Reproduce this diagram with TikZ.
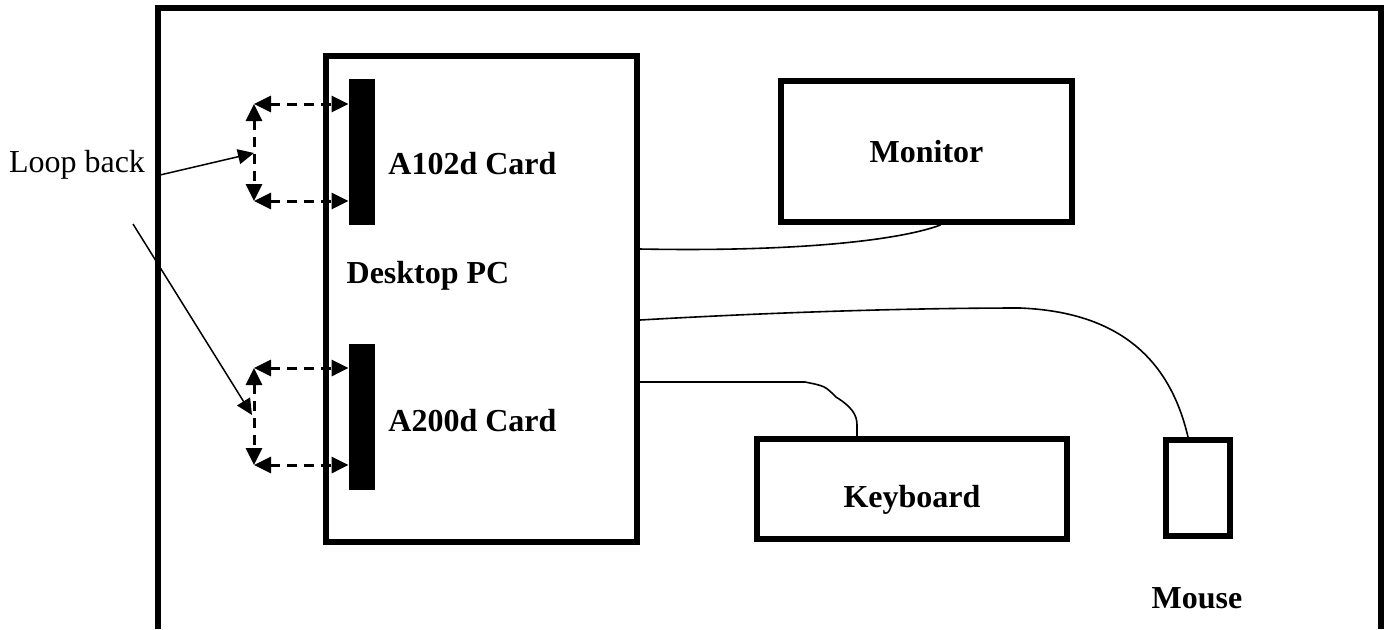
\documentclass[tikz,border=0pt]{standalone}
\usepackage{fontspec}
\setmainfont{Liberation Serif}
\usetikzlibrary{arrows.meta,positioning}

\begin{document}
\begin{tikzpicture}[x=0.5pt,y=-0.5pt,
		font=\fontsize{16}{19}\selectfont,
		box/.style={draw,line width=3pt,inner sep=0pt},
		card/.style={fill=black,inner sep=0pt,minimum width=13pt,minimum height=73pt},
		lbl/.style={font=\fontsize{16}{19}\selectfont\bfseries,inner sep=0pt},
		loopline/.style={dashed,dash pattern=on 5pt off 3.5pt,line width=1.5pt,{Triangle[length=8.5pt,width=8pt]}-{Triangle[length=8.5pt,width=8pt]}},
		pointer/.style={line width=0.75pt,-{Triangle[length=8pt,width=7.5pt]}},
		cable/.style={line width=0.8pt}]
			\useasboundingbox (0,0) rectangle (1384,629);
			\draw[line width=3pt] (158,629) -- (158,8) -- (1381,8) -- (1381,629);
			\node[box,minimum width=155.5pt,minimum height=243pt] (pc) at (481.5,299) {};
			\node[box,minimum width=145.5pt,minimum height=70.5pt,font=\fontsize{16}{19}\selectfont\bfseries] (monitor) at (926.5,151.5) {Monitor};
			\node[box,minimum width=155pt,minimum height=50pt] (keyboard) at (912,489) {};
			\node[box,minimum width=32pt,minimum height=48pt] (mouse) at (1198,488) {};
			\node[card] (card1) at (362,152) {};
			\node[card] (card2) at (362,416.5) {};
			\node[lbl] (pclbl) at (428,276) {Desktop PC};
			\node[lbl,anchor=west] (card1lbl) at (388,164) {A102d Card};
			\node[lbl,anchor=west] (card2lbl) at (388,421) {A200d Card};
			\node[lbl] (kblbl) at (912,500) {Keyboard};
			\node[lbl] (mouselbl) at (1197,598) {Mouse};
			\node (loop) at (77,165) {Loop back};
			\coordinate (t1) at (254,104);
			\coordinate (b1) at (254,201);
			\coordinate (m1) at (254,153);
			\coordinate (t2) at (254,368);
			\coordinate (b2) at (254,465);
			\coordinate (m2) at (252,415);
			\coordinate (lbs1) at (160,175);
			\coordinate (lbs2) at (133,224);
			\foreach \c/\t/\b in {card1/t1/b1,card2/t2/b2} {
				\draw[loopline] (\t) -- (\t -| \c.west);
				\draw[loopline] (\b) -- (\b -| \c.west);
				\draw[loopline] (\t) -- (\b);
			}
			\draw[pointer] (lbs1) -- (m1);
			\draw[pointer] (lbs2) -- (m2);
			\draw[cable] ([yshift=25pt]pc.east) .. controls (800,252) and (900,240) .. ([xshift=7pt]monitor.south);
			\draw[cable] ([yshift=-10.5pt]pc.east) .. controls (760,313) and (900,308) .. (1020,308)
				.. controls (1120,312) and (1170,360) .. ([xshift=-5pt]mouse.north);
			\draw[cable] ([yshift=-41.5pt]pc.east) -- (805,382) .. controls (825,386) .. (836,397)
				.. controls (852,407) and (857,415) .. (857,425) -- ([xshift=-27.5pt]keyboard.north);
		\end{tikzpicture}
\end{document}
